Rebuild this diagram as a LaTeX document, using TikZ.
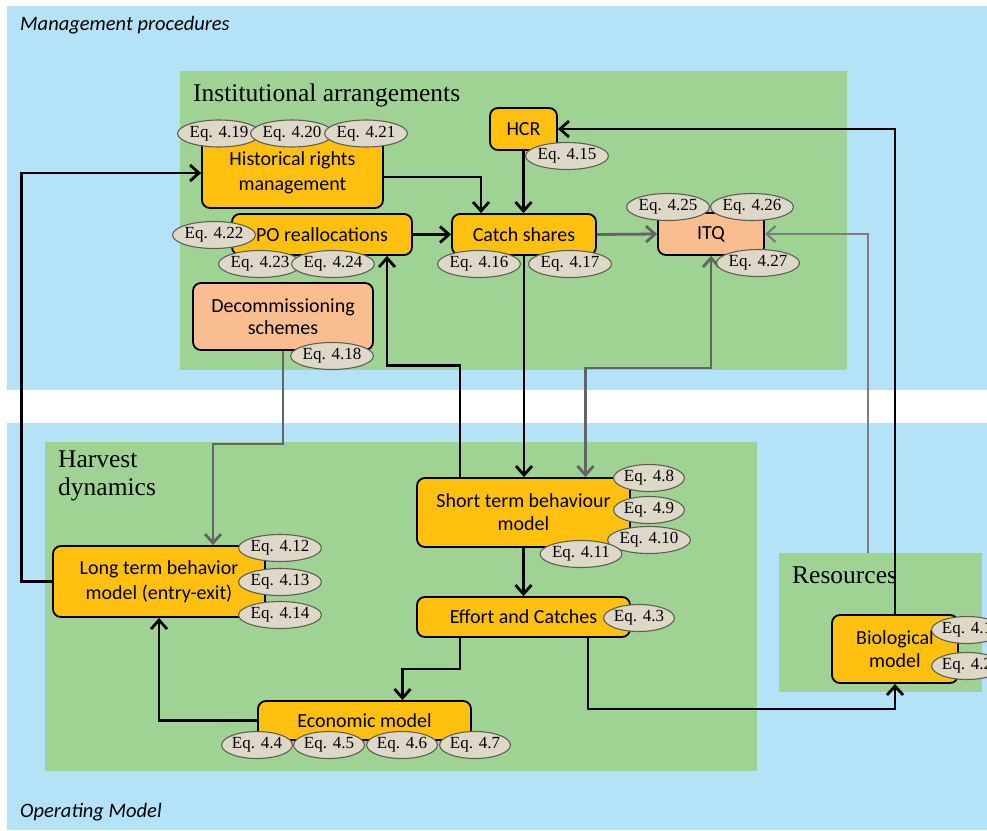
\documentclass[tikz,border=0pt]{standalone}
\usepackage{fontspec}
\setmainfont{Liberation Serif}
\newfontfamily\calfont{Carlito}
\usetikzlibrary{arrows.meta,shapes.geometric,calc}
\definecolor{bgblue}{RGB}{180,226,246}
\definecolor{pgreen}{RGB}{158,211,148}
\definecolor{borange}{RGB}{255,192,16}
\definecolor{bsalmon}{RGB}{249,189,143}
\definecolor{eqfill}{RGB}{222,216,200}
\definecolor{eqline}{RGB}{95,95,85}
\definecolor{lgray}{RGB}{100,100,100}
\definecolor{llgray}{RGB}{125,125,125}
\begin{document}
\begin{tikzpicture}[x=1pt,y=-1pt,
 box/.style={draw=black, line width=1.8pt, rounded corners=8pt, fill=borange, inner sep=0pt, align=center, font=\calfont\fontsize{20}{24}\selectfont},
 sbox/.style={box, fill=bsalmon},
 eq/.style={ellipse, draw=eqline, line width=1.1pt, fill=eqfill, minimum width=68pt, minimum height=27pt, inner sep=0pt, font=\fontsize{17}{18}\selectfont},
 panel/.style={fill=pgreen, inner sep=0pt},
 title/.style={anchor=base west, font=\fontsize{25.5}{28}\selectfont, align=left, inner sep=0pt},
 mtitle/.style={anchor=base west, font=\calfont\itshape\fontsize{20.5}{24}\selectfont, inner sep=0pt},
 blk/.style={draw=black, line width=2.8pt, -{Straight Barb[length=9pt,width=16pt]}},
 gry/.style={draw=lgray, line width=2.8pt, -{Straight Barb[length=9pt,width=16pt]}},
 gryb/.style={draw=lgray, line width=2.8pt, {Straight Barb[length=9pt,width=16pt]}-{Straight Barb[length=9pt,width=16pt]}},
 gryt/.style={draw=llgray, line width=2.2pt, -{Straight Barb[length=9pt,width=16pt]}},
]
\useasboundingbox (0,0) rectangle (987,830);
\fill[white] (0,0) rectangle (987,830);
% blue panels
\fill[bgblue] (7,6) rectangle (987,390);
\fill[bgblue] (7,423) rectangle (987,830);
% green panels
\node[panel, minimum width=667pt, minimum height=299pt] (inst) at (513.5,220.5) {};
\node[panel, minimum width=712pt, minimum height=329pt] (harv) at (401,606.5) {};
\node[panel, minimum width=203pt, minimum height=139pt] (res) at (880.5,622.5) {};
% titles
\node[mtitle] (tmp) at (20,30) {Management procedures};
\node[mtitle] (tom) at (20,817) {Operating Model};
\node[title] (tinst) at (193,101) {Institutional arrangements};
\node[title, anchor=north west] (tharv) at (58,451) {Harvest\\dynamics};
\node[title] (tres) at (792,583) {Resources};
% boxes
\node[box, minimum width=181pt, minimum height=70pt, font=\calfont\fontsize{20}{25}\selectfont] (hist) at (292.5,173) {Historical rights\\management};
\node[box, minimum width=67pt, minimum height=42pt] (hcr) at (523.5,129) {HCR};
\node[box, minimum width=180pt, minimum height=41pt] (po) at (322,234.5) {PO reallocations};
\node[box, minimum width=144pt, minimum height=41pt] (catch) at (524,234.5) {Catch shares};
\node[sbox, minimum width=106pt, minimum height=42pt] (itq) at (711,234) {ITQ};
\node[sbox, minimum width=180pt, minimum height=67pt, font=\calfont\fontsize{20}{22}\selectfont] (decom) at (283,316.5) {Decommissioning\\schemes};
\node[box, minimum width=213pt, minimum height=69pt, font=\calfont\fontsize{20}{23}\selectfont] (short) at (523.5,512.5) {Short term behaviour\\model};
\node[box, minimum width=213pt, minimum height=40pt] (effort) at (523.5,617) {Effort and Catches};
\node[box, minimum width=212pt, minimum height=71pt, font=\calfont\fontsize{20}{25}\selectfont] (long) at (159,581.5) {Long term behavior\\model (entry-exit)};
\node[box, minimum width=213pt, minimum height=39pt] (econ) at (364.5,720.5) {Economic model};
\node[box, minimum width=126pt, minimum height=68pt, font=\calfont\fontsize{20}{23}\selectfont] (bio) at (895,649) {Biological\\model};
% connectors
\draw[blk] (long.west) -- ++(-31,0) |- (hist.west);
\draw[blk] ([yshift=-4pt]hist.east) -| ([xshift=-43pt]catch.north);
\draw[blk] (hcr.south) -- (hcr.south |- catch.north);
\draw[blk] (bio.north) |- (hcr.east);
\draw[blk] (po.east) -- (catch.west);
\draw[gry] (catch.east) -- (itq.west);
\draw[blk] (catch.south) -- (catch.south |- short.north);
\draw[blk] ([xshift=-63.5pt]short.north) -- ++(0,-112) -| ([xshift=65pt]po.south);
\draw[gryb] (itq.south) -- ++(0,112) -| ([xshift=62pt]short.north);
\draw[gry] (decom.south) -- ++(0,93) -| ([xshift=54pt]long.north);
\draw[gryt] ([xshift=-12.5pt]res.north) |- (itq.east);
\draw[blk] (short.south) -- (effort.north);
\draw[blk] ([xshift=-63.5pt]effort.south) -- ++(0,31) -| ([xshift=38pt]econ.north);
\draw[blk] ([xshift=64.5pt]effort.south) -- ++(0,71) -| (bio.south);
\draw[blk] (econ.west) -| (long.south);
% equation labels
\node[eq] (e419) at (219,133.5) {Eq. 4.19};
\node[eq] (e420) at (292,133.5) {Eq. 4.20};
\node[eq] (e421) at (366,133.5) {Eq. 4.21};
\node[eq] (e415) at (567,156) {Eq. 4.15};
\node[eq] (e422) at (214,235) {Eq. 4.22};
\node[eq] (e423) at (260,264) {Eq. 4.23};
\node[eq] (e424) at (333,264) {Eq. 4.24};
\node[eq] (e416) at (479,264) {Eq. 4.16};
\node[eq] (e417) at (570,264) {Eq. 4.17};
\node[eq] (e425) at (668,207) {Eq. 4.25};
\node[eq] (e426) at (752,207) {Eq. 4.26};
\node[eq] (e427) at (758,263) {Eq. 4.27};
\node[eq] (e418) at (332,356) {Eq. 4.18};
\node[eq] (e48) at (649,478) {Eq. 4.8};
\node[eq] (e49) at (649,510) {Eq. 4.9};
\node[eq] (e410) at (649,540) {Eq. 4.10};
\node[eq] (e411) at (581,554) {Eq. 4.11};
\node[eq] (e43) at (639,618) {Eq. 4.3};
\node[eq] (e412) at (280,548) {Eq. 4.12};
\node[eq] (e413) at (280,582) {Eq. 4.13};
\node[eq] (e414) at (280,615) {Eq. 4.14};
\node[eq] (e44) at (257,745) {Eq. 4.4};
\node[eq] (e45) at (329,745) {Eq. 4.5};
\node[eq] (e46) at (402,745) {Eq. 4.6};
\node[eq] (e47) at (475,745) {Eq. 4.7};
\node[eq] (e41) at (967,630) {Eq. 4.1};
\node[eq] (e42) at (967,666) {Eq. 4.2};
\end{tikzpicture}
\end{document}
